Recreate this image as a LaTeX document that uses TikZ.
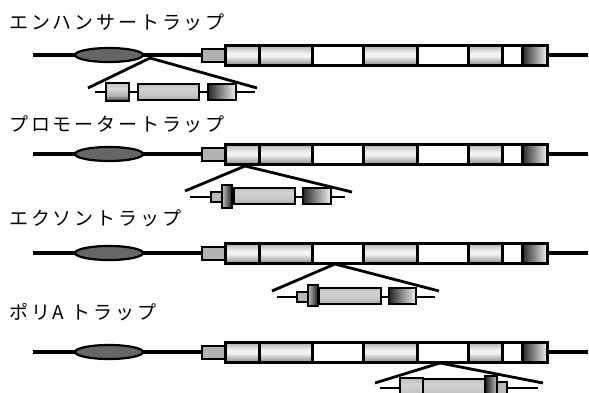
\documentclass[tikz,border=0pt]{standalone}
\usepackage{fontspec}
\newfontfamily\jp[LetterSpace=15]{Noto Sans CJK JP}
% shadings are fitted so that 25bp..75bp spans the filled box
% exon fill: grey at the top, nearly white in the middle, darker at the bottom
\pgfdeclareverticalshading{exonshade}{100bp}{%
  color(0bp)=(gray!85); color(25bp)=(gray!85); color(36bp)=(gray!50);
  color(47bp)=(gray!10); color(55bp)=(gray!10); color(64bp)=(gray!35);
  color(75bp)=(gray!65); color(100bp)=(gray!65)}
\pgfdeclareverticalshading{insshade}{100bp}{%
  color(0bp)=(gray!65); color(25bp)=(gray!65); color(40bp)=(gray!45);
  color(60bp)=(gray!35); color(75bp)=(gray!50); color(100bp)=(gray!50)}
\pgfdeclareverticalshading{boxshade}{100bp}{%
  color(0bp)=(black!80); color(25bp)=(black!80); color(40bp)=(gray!60);
  color(60bp)=(gray!30); color(75bp)=(gray!45); color(100bp)=(gray!45)}
\begin{document}
\begin{tikzpicture}[x=1pt,y=-1pt,
  axis/.style={line width=4.5pt},
  cut/.style={line width=2.8pt},
  vecline/.style={line width=2.2pt},
  exg/.style={draw, line width=3pt, shading=exonshade},
  exw/.style={draw, line width=3pt, fill=white},
  exd/.style={draw, line width=3pt, left color=black!85, right color=gray!12},
  enh/.style={draw, line width=2.2pt, fill=black!60},
  prom/.style={draw, line width=2.5pt, fill=gray!60},
  vlight/.style={draw, line width=2.2pt, shading=insshade},
  vgrad/.style={draw, line width=2.2pt, shading=boxshade},
  hdark/.style={draw, line width=2.2pt, left color=black!85, right color=gray!10},
  tallr/.style={draw, line width=1.8pt, left color=gray!50, right color=black!90},
  talll/.style={draw, line width=1.8pt, left color=black!90, right color=gray!50},
  small/.style={draw, line width=1.8pt, fill=gray!55},
  title/.style={anchor=west, inner sep=0pt, font=\jp\fontsize{19}{19}\selectfont}
]
\useasboundingbox (0,0) rectangle (589,392);
\clip (0,0) rectangle (589,392);

% one genomic locus: flanking line, enhancer, promoter and exons
\newcommand\locus[1]{%
  \draw[axis] (33,#1) -- (588,#1);
  \draw[enh] (109,#1) ellipse [x radius=34, y radius=7];
  \draw[prom] (202,#1-6) rectangle (225,#1+7);
  \draw[exg] (225,#1-10) rectangle (259,#1+10);
  \draw[exg] (259,#1-10) rectangle (312,#1+10);
  \draw[exw] (312,#1-10) rectangle (363,#1+10);
  \draw[exg] (363,#1-10) rectangle (417,#1+10);
  \draw[exw] (417,#1-10) rectangle (468,#1+10);
  \draw[exg] (468,#1-10) rectangle (502,#1+10);
  \draw[exw] (502,#1-10) rectangle (522,#1+10);
  \draw[exd] (522,#1-10) rectangle (547,#1+10);
}

% titles
\node[title] (t1) at (9,22) {エンハンサートラップ};
\node[title] (t2) at (9,124) {プロモータートラップ};
\node[title] (t3) at (9,218) {エクソントラップ};
\node[title] (t4) at (9,312) {ポリA トラップ};

% loci
\locus{55}
\locus{154}
\locus{253}
\locus{352}

% enhancer trap
\coordinate (a1) at (150,58);
\coordinate (l1) at (88,88);
\coordinate (r1) at (257,88);
\draw[cut] (l1) -- (a1) -- (r1);
\draw[vecline] (95,92) -- (255,92);
\draw[vgrad] (106,83) rectangle (129,101);
\draw[vlight] (138,84) rectangle (199,100);
\draw[hdark] (208,84) rectangle (236,100);

% promoter trap
\coordinate (a2) at (245,166);
\coordinate (l2) at (185,191);
\coordinate (r2) at (352,192);
\draw[cut] (l2) -- (a2) -- (r2);
\draw[vecline] (190,197) -- (345,197);
\draw[small] (211,192) rectangle (222,202);
\draw[tallr] (222,185) rectangle (232,208);
\draw[vlight] (234,188) rectangle (295,204);
\draw[hdark] (303,188) rectangle (331,204);

% exon trap
\coordinate (a3) at (335,264);
\coordinate (l3) at (272,291);
\coordinate (r3) at (439,291);
\draw[cut] (l3) -- (a3) -- (r3);
\draw[vecline] (277,297) -- (435,297);
\draw[small] (297,292) rectangle (308,302);
\draw[tallr] (308,285) rectangle (318,306);
\draw[vlight] (319,288) rectangle (381,304);
\draw[hdark] (389,288) rectangle (416,304);

% poly(A) trap
\coordinate (a4) at (440,363);
\coordinate (l4) at (375,383);
\coordinate (r4) at (543,383);
\draw[cut] (l4) -- (a4) -- (r4);
\draw[vecline] (380,388) -- (538,388);
\draw[vlight] (400,378) rectangle (423,398);
\draw[vlight] (423,379) rectangle (485,397);
\draw[talll] (485,376) rectangle (497,400);
\draw[small] (497,382) rectangle (507,394);
\end{tikzpicture}
\end{document}
